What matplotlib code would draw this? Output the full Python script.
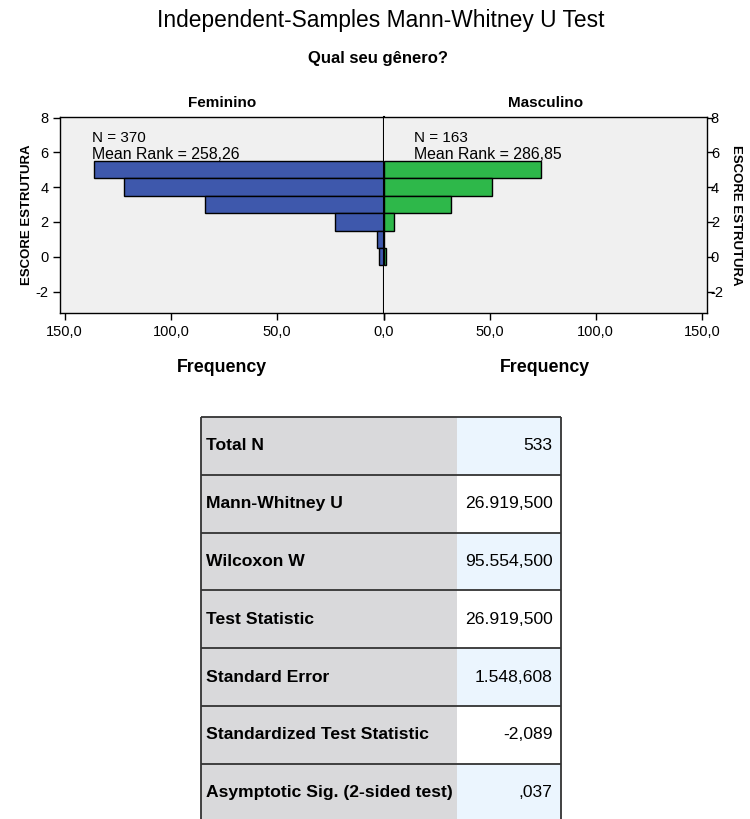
import matplotlib
matplotlib.use("Agg")
import matplotlib.pyplot as plt
from matplotlib.ticker import FuncFormatter

plt.rcParams['font.family'] = ['Liberation Sans', 'DejaVu Sans']
plt.rcParams['axes.unicode_minus'] = False

# data
score_bins = [5, 4, 3, 2, 1, 0]
freq_fem = [136, 122, 84, 23, 3, 2]
freq_masc = [74, 51, 32, 5, 0, 1]
groups = ["Feminino", "Masculino"]
group_n = [370, 163]
mean_rank = ["258,26", "286,85"]
x_ticks = [0, 50, 100, 150]
y_ticks = [-2, 0, 2, 4, 6, 8]

row_labels = ["Total N", "Mann-Whitney U", "Wilcoxon W", "Test Statistic",
              "Standard Error", "Standardized Test Statistic",
              "Asymptotic Sig. (2-sided test)"]
row_values = ["533", "26.919,500", "95.554,500", "26.919,500",
              "1.548,608", "-2,089", ",037"]

W, H = 750, 819
BLUE = "#3E58AC"
GREEN = "#2EB84A"
PANEL_BG = "#F0F0F0"


def fx(x):
    return x / W


def fy(y):
    return 1 - y / H


def comma_fmt(v, pos):
    return f"{v:.1f}".replace(".", ",")


def comma_fmt_nozero(v, pos):
    if v == 0:
        return ""
    return comma_fmt(v, pos)


fig = plt.figure(figsize=(7.5, 8.19), dpi=100)

fig.text(fx(381), fy(21), "Independent-Samples Mann-Whitney U Test",
         ha="center", va="center", fontsize=16.4)
fig.text(fx(378), fy(59), "Qual seu gênero?", ha="center", va="center",
         fontsize=12, fontweight="bold")

ax_l = fig.add_axes([fx(60.3), fy(313.3), fx(383.5 - 60.3), (313.3 - 116.7) / H])
ax_r = fig.add_axes([fx(383.5), fy(313.3), fx(706.7 - 383.5), (313.3 - 116.7) / H])

for ax, freqs, color, n, mr, grp, xtxt in [
        (ax_l, freq_fem, BLUE, group_n[0], mean_rank[0], groups[0], 137),
        (ax_r, freq_masc, GREEN, group_n[1], mean_rank[1], groups[1], 14.4)]:
    ax.set_facecolor(PANEL_BG)
    ax.barh(score_bins, freqs, height=1.0, color=color, edgecolor="black", linewidth=1.0)
    ax.set_ylim(-3.25, 8.05)
    ax.set_yticks(y_ticks)
    ax.set_xticks(x_ticks)
    ax.tick_params(labelsize=10.5, length=5, width=1, colors="black")
    for s in ax.spines.values():
        s.set_color("black")
        s.set_linewidth(1.0)
    ax.set_xlabel("Frequency", fontsize=12.8, fontweight="bold", labelpad=14)
    ax.set_title(grp, fontsize=11, fontweight="bold", pad=7)
    ax.text(xtxt, 6.82, f"N = {n}", fontsize=11, ha="left", va="center")
    ax.text(xtxt, 5.86, f"Mean Rank = {mr}", fontsize=11.4, ha="left", va="center")

ax_l.set_xlim(152, 0)
ax_l.xaxis.set_major_formatter(FuncFormatter(comma_fmt))
ax_l.spines["right"].set_linewidth(1.5)
ax_l.set_ylabel("ESCORE ESTRUTURA", fontsize=9.5, fontweight="bold", labelpad=2)

ax_r.set_xlim(0, 152.3)
ax_r.xaxis.set_major_formatter(FuncFormatter(comma_fmt_nozero))
ax_r.spines["left"].set_visible(False)
ax_r.yaxis.tick_right()
ax_r.yaxis.set_label_position("right")
ax_r.set_ylabel("ESCORE ESTRUTURA", fontsize=9.5, fontweight="bold",
                rotation=270, labelpad=13)
ax_r.tick_params(axis="y", pad=-2)

# statistics table
tab_left, tab_right, tab_top = 200.7, 561, 417
row_h = 57.8
n_rows = len(row_labels)
tab_bottom = tab_top + row_h * n_rows
ax_t = fig.add_axes([fx(tab_left), fy(tab_bottom), fx(tab_right - tab_left),
                     (tab_bottom - tab_top) / H])
ax_t.axis("off")
ax_t.set_xlim(0, 1)
ax_t.set_ylim(0, 1)

cell_text = [[lab, val] for lab, val in zip(row_labels, row_values)]
cell_colors = [["#D9D9DB", "#EBF5FE" if i % 2 == 0 else "white"]
               for i in range(n_rows)]
tab = ax_t.table(cellText=cell_text, cellColours=cell_colors,
                 colWidths=[256 / 360.3, 104.3 / 360.3], bbox=[0, 0, 1, 1])
tab.auto_set_font_size(False)
for (r, c), cell in tab.get_celld().items():
    cell.set_linewidth(0)
    txt = cell.get_text()
    txt.set_fontsize(12.6)
    if c == 0:
        cell.PAD = 0.022
        cell._loc = "left"
        txt.set_ha("left")
        txt.set_fontweight("bold")
    else:
        cell.PAD = 0.08
        cell._loc = "right"
        txt.set_ha("right")

# row borders and outer frame
ax_t.hlines([i / n_rows for i in range(n_rows + 1)], 0, 1, color="#333333",
            linewidth=1.3, clip_on=False, zorder=5)
ax_t.vlines([0, 1], 0, 1, color="#333333", linewidth=1.3, clip_on=False, zorder=5)

fig.savefig("out.png", dpi=100, facecolor="white")
